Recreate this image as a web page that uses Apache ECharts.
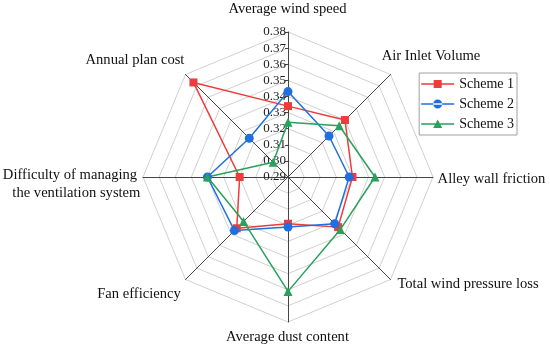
<!DOCTYPE html>
<html><head><meta charset="utf-8">
<script src="https://cdn.jsdelivr.net/npm/echarts@6/dist/echarts.min.js"></script>
<style>html,body{margin:0;padding:0;background:#fff}#c{width:550px;height:350px}</style>
</head><body><div id="c"></div>
<script>
// indicator order as ECharts lays them out (top, then counter-clockwise)
const indicators = ['Average wind speed', 'Annual plan cost', 'Difficulty of managing\nthe ventilation system', 'Fan efficiency', 'Average dust content', 'Total wind pressure loss', 'Alley wall friction', 'Air Inlet Volume'];
const seriesNames = ['Scheme 1', 'Scheme 2', 'Scheme 3'];
const scheme1 = [0.334, 0.373, 0.320, 0.335, 0.319, 0.334, 0.330, 0.340];
const scheme2 = [0.343, 0.324, 0.340, 0.337, 0.321, 0.331, 0.328, 0.326];
const scheme3 = [0.324, 0.303, 0.340, 0.329, 0.361, 0.336, 0.344, 0.335];
const axisMin = 0.29, axisMax = 0.38, splitCount = 9;

const font = 'Liberation Serif';
const colors = ['#ee3b3b', '#1f6fe0', '#2aa05a'];
const symbols = ['rect', 'circle', 'triangle'];
const all = [scheme1, scheme2, scheme3];

// legend icons: line + marker, box 33x12
const lineBar = 'M0 5.25 L33 5.25 L33 6.75 L0 6.75 Z M0 0 L0.01 0 L0 0.01 Z M33 12 L32.99 12 L33 11.99 Z ';
const legendIcons = [
  'path://' + lineBar + 'M12.5 2 L20.5 2 L20.5 10 L12.5 10 Z',
  'path://' + lineBar + 'M12 6 A4.5 4.5 0 1 0 21 6 A4.5 4.5 0 1 0 12 6 Z',
  'path://' + lineBar + 'M16.5 1.5 L21 10 L12 10 Z'
];

// per-name placement styles (rich text keys)
const nameKey = {
  'Average wind speed': 'n0',
  'Annual plan cost': 'n1',
  'Fan efficiency': 'n3',
  'Average dust content': 'n4',
  'Total wind pressure loss': 'n5',
  'Alley wall friction': 'n6',
  'Air Inlet Volume': 'n7'
};
const base = { fontFamily: font, fontSize: 14.6, color: '#111' };
const rich = {
  n0: Object.assign({ padding: [0, 1, 45, 0] }, base),
  n1: Object.assign({ padding: [0, 101, 28, 0] }, base),
  n3: Object.assign({ padding: [29, 93, 0, 0] }, base),
  n4: Object.assign({ padding: [30, 1, 0, 0] }, base),
  n5: Object.assign({ padding: [9, 0, 0, 155] }, base),
  n6: Object.assign({ padding: [4, 0, 0, 117] }, base),
  n7: Object.assign({ padding: [0, 0, 36, 81] }, base),
  e: Object.assign({}, base, { lineHeight: 14.5 }),
  d1: Object.assign({}, base, { lineHeight: 17.5, align: 'right', padding: [0, 146, 0, 0] }),
  d2: Object.assign({}, base, { lineHeight: 17.5, align: 'right', padding: [0, 142.7, 0, 0] })
};

const chart = echarts.init(document.getElementById('c'));
chart.setOption({
  animation: false,
  textStyle: { fontFamily: font },
  legend: {
    orient: 'vertical', right: 33, top: 73,
    padding: [4, 3, 4, 2],
    itemWidth: 33, itemHeight: 12, itemGap: 6,
    borderColor: '#a0a0a0', borderWidth: 1,
    textStyle: { fontFamily: font, fontSize: 14, color: '#111' },
    data: seriesNames.map((n, k) => ({ name: n, icon: legendIcons[k] }))
  },
  radar: {
    center: [288, 177], radius: 145,
    shape: 'polygon', splitNumber: splitCount,
    nameGap: 0,
    axisName: {
      color: '#111', fontFamily: font, fontSize: 14.6,
      align: 'center', verticalAlign: 'middle',
      rich: rich,
      formatter: function (name) {
        if (nameKey[name]) return '{' + nameKey[name] + '|' + name + '}';
        const parts = name.split('\n');
        return '{e| }\n{d1|' + parts[0] + '}\n{d2|' + parts[1] + '}';
      }
    },
    axisLine: { lineStyle: { color: '#444', width: 1 } },
    splitLine: { lineStyle: { color: '#d0d0d0', width: 1 } },
    splitArea: { show: false },
    indicator: indicators.map((n, i) => {
      const o = { name: n, min: axisMin, max: axisMax };
      if (i === 0) {
        o.axisLabel = { show: true, fontFamily: font, fontSize: 13, color: '#222', margin: 2,
          formatter: v => Number(v).toFixed(2) };
        o.axisTick = { show: true, length: 3, lineStyle: { color: '#444' } };
      }
      return o;
    })
  },
  series: [{
    type: 'radar',
    data: all.map((vals, k) => ({
      name: seriesNames[k], value: vals,
      symbol: symbols[k], symbolSize: k === 0 ? 8 : 9,
      lineStyle: { color: colors[k], width: 1.5 },
      itemStyle: { color: colors[k] }
    }))
  }],
  color: colors
});
</script></body></html>
